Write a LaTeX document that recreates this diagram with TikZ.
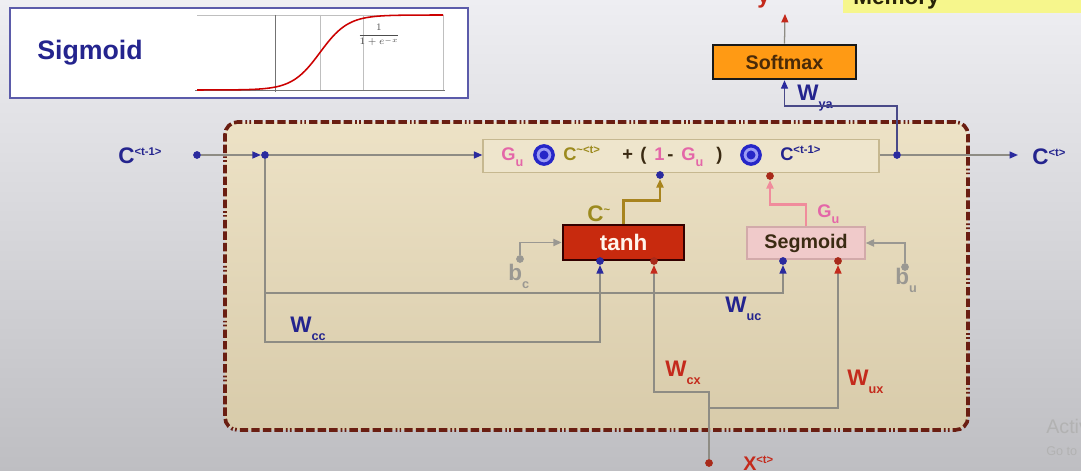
\documentclass[tikz,border=0pt]{standalone}
\usepackage{fontspec}
\setmainfont{Liberation Sans}
\usetikzlibrary{positioning,arrows.meta}

\definecolor{inkblue}{HTML}{24248E}
\definecolor{arrowblue}{HTML}{2A2A9E}
\definecolor{arrowred}{HTML}{C42A1C}
\definecolor{dotred}{HTML}{A82A1A}
\definecolor{wiregray}{HTML}{8E8C84}
\definecolor{biasgray}{HTML}{9A9892}
\definecolor{pinkG}{HTML}{E466A8}
\definecolor{olivec}{HTML}{9C8A1E}
\definecolor{goldwire}{HTML}{A8841E}
\definecolor{pinkwire}{HTML}{F08C9C}
\definecolor{cellline}{HTML}{6A1E12}
\definecolor{celltop}{HTML}{EDE2C6}
\definecolor{cellbot}{HTML}{D8CBAA}
\definecolor{formfill}{HTML}{EEE5CC}
\definecolor{formline}{HTML}{C6B890}
\definecolor{odotblue}{HTML}{2626C8}
\definecolor{odotlight}{HTML}{9C9CF4}
\definecolor{darktxt}{HTML}{3A2A12}
\definecolor{tanhred}{HTML}{C82A0E}
\definecolor{softorange}{HTML}{FF9A14}
\definecolor{softtxt}{HTML}{4A2A08}
\definecolor{segpink}{HTML}{F0CACA}
\definecolor{segline}{HTML}{D2AAAA}
\definecolor{bgtop}{HTML}{EEEEF2}
\definecolor{bgbot}{HTML}{BEBEC2}
\definecolor{memoyellow}{HTML}{F6F68C}

\newlength{\unitpx}
\setlength{\unitpx}{0.025cm}
\newcommand{\upidx}[1]{\raisebox{0.75ex}{\fontsize{8}{8}\selectfont#1}}
\newcommand{\lowidx}[1]{\raisebox{-0.6ex}{\fontsize{9}{9}\selectfont#1}}

\begin{document}
\begin{tikzpicture}[x=0.025cm, y=-0.025cm,
    wire/.style={draw=wiregray, line width=0.9pt},
    bluein/.style={wire, -{Triangle[length=6pt,width=5pt,color=arrowblue]}},
    redin/.style={wire, -{Triangle[length=6pt,width=5pt,color=arrowred]}},
    grayin/.style={draw=biasgray, line width=1.4pt, -{Triangle[length=6pt,width=5pt]}},
    dotb/.style={circle, fill=arrowblue, inner sep=0, minimum size=5.5pt},
    dotr/.style={circle, fill=dotred, inner sep=0, minimum size=5.5pt},
    dotg/.style={circle, fill=biasgray, inner sep=0, minimum size=5.5pt},
    lbl/.style={inner sep=0, anchor=base west, font=\bfseries\fontsize{16}{16}\selectfont},
    flbl/.style={inner sep=0, anchor=base west, font=\bfseries\fontsize{13}{13}\selectfont},
    odot/.style={circle, fill=odotlight, draw=odotblue, line width=2.4pt, inner sep=0, minimum size=13pt,
      path picture={\fill[odotblue] (path picture bounding box.center) circle (3.2pt);}},
    gate/.style={inner sep=0, font=\bfseries\fontsize{14}{14}\selectfont}
  ]
    \useasboundingbox (0,0) rectangle (1081,471);
    \clip (0,0) rectangle (1081,471);
    \fill[top color=bgtop, bottom color=bgbot] (0,0) rectangle (1081,471);

    % Sigmoid panel
    \node[draw=inkblue!75, line width=1.4pt, fill=white, minimum width=458\unitpx, minimum height=90\unitpx] (sigbox) at (239,53) {};
    \node[inner sep=0, anchor=west, text=inkblue, font=\bfseries\fontsize{19}{19}\selectfont] (sigtitle) at (37,53) {Sigmoid};
    \draw[black!25, line width=0.4pt] (197,15) -- (443,15) (443,15) -- (443,90) (363,15) -- (363,90) (320,15) -- (320,90);
    \draw[black!55, line width=0.5pt] (275,15) -- (275,92) (195,90) -- (445,90);
    \draw[red!80!black, line width=1.1pt, domain=197:443, samples=90] plot (\x, {90-75/(1+exp(-(\x-320)/14))});
    \node[inner sep=0, text=black!70, font=\fontsize{7}{7}\selectfont] (sigform) at (379,35) {$\displaystyle\frac{1}{1+e^{-x}}$};

    % Memory note
    \node[fill=memoyellow, minimum width=260\unitpx, minimum height=32\unitpx] (memory) at (973,-3) {};
    \node[lbl, text=black!75!olivec] (memtext) at (853,5) {Memory};

    % GRU cell
    \node[draw=cellline, line width=2.6pt, rounded corners=9pt, top color=celltop, bottom color=cellbot,
      dash pattern=on 6pt off 2.2pt on 6pt off 2.2pt on 6pt off 2.2pt on 6pt off 2.2pt on 1.2pt off 1.6pt on 1.2pt off 2.2pt,
      minimum width=743\unitpx, minimum height=308\unitpx] (cell) at (596.5,276) {};

    % Formula box
    \node[draw=formline, fill=formfill, line width=0.9pt,
      minimum width=396\unitpx, minimum height=33\unitpx] (formula) at (681,156) {};
    \node[flbl, text=pinkG] (gu1) at (501,161) {G\lowidx{u}};
    \node[odot] (o1) at (544,155) {};
    \node[flbl, text=olivec] (ctilde) at (563,161) {C\upidx{\textasciitilde<t>}};
    \node[flbl, text=darktxt] (plus) at (622,161) {+};
    \node[flbl, text=darktxt] (lpar) at (640,161) {(};
    \node[flbl, text=pinkG] (one) at (654,161) {1};
    \node[flbl, text=darktxt] (minus) at (667,161) {-};
    \node[flbl, text=pinkG] (gu2) at (681,161) {G\lowidx{u}};
    \node[flbl, text=darktxt] (rpar) at (716,161) {)};
    \node[odot] (o2) at (751,155) {};
    \node[flbl, text=inkblue] (cprevf) at (780,161) {C\upidx{<t-1>}};

    % Gates
    \node[gate, draw=black!80!red, line width=1.8pt, fill=tanhred, text=orange!8!white,
      minimum width=121\unitpx, minimum height=35\unitpx, font=\bfseries\fontsize{16}{16}\selectfont] (tanh) at (623.5,242.5) {tanh};
    \node[gate, draw=segline, line width=0.9pt, fill=segpink, text=darktxt,
      minimum width=118\unitpx, minimum height=32\unitpx] (segmoid) at (806,243) {Segmoid};
    \node[gate, draw=black!90, line width=1.8pt, fill=softorange, text=softtxt,
      minimum width=143\unitpx, minimum height=34\unitpx] (softmax) at (784.5,62) {Softmax};

    % Dots
    \node[dotb] (cin) at (197,155) {};
    \node[dotb] (split1) at (265,155) {};
    \node[dotb] (split2) at (897,155) {};
    \node[dotb] (cdot) at (660,175) {};
    \node[dotr] (gdot) at (770,176) {};
    \node[dotb] (tin1) at (600,261) {};
    \node[dotr] (tin2) at (654,261) {};
    \node[dotb] (sin1) at (783,261) {};
    \node[dotr] (sin2) at (838,261) {};
    \node[dotg] (bcdot) at (520,259) {};
    \node[dotg] (budot) at (905,267) {};
    \node[dotr] (xdot) at (709,463) {};
    \coordinate (wccc) at (265,342);
    \coordinate (ucfork) at (265,293);
    \coordinate (xfork) at (709,408);
    \coordinate (cxturn) at (709,392);
    \coordinate (yaturn) at (897,106);
    \coordinate (ytip) at (785,14);

    % Labels
    \node[lbl, text=inkblue] (cprev) at (118,164) {C\upidx{<t-1>}};
    \node[lbl, text=inkblue] (cout) at (1032,165) {C\upidx{<t>}};
    \node[lbl, text=inkblue] (wya) at (797,101) {W\lowidx{ya}};
    \node[lbl, text=inkblue] (wcc) at (290,333) {W\lowidx{cc}};
    \node[lbl, text=inkblue] (wuc) at (725,313) {W\lowidx{uc}};
    \node[lbl, text=arrowred] (wcx) at (665,377) {W\lowidx{cx}};
    \node[lbl, text=arrowred] (wux) at (847,386) {W\lowidx{ux}};
    \node[lbl, text=biasgray] (bc) at (508,281) {b\lowidx{c}};
    \node[lbl, text=biasgray] (bu) at (895,285) {b\lowidx{u}};
    \node[flbl, text=pinkG] (gulbl) at (817,218) {G\lowidx{u}};
    \node[lbl, text=olivec] (ctlbl) at (587,222) {C\upidx{\textasciitilde}};
    \node[lbl, text=arrowred, font=\bfseries\fontsize{14}{14}\selectfont] (xin) at (743,471) {X\upidx{<t>}};
    \node[lbl, text=arrowred] (yout) at (757,4) {y};
    \node[inner sep=0, anchor=base west, text=black!30, font=\fontsize{14}{14}\selectfont] (wmark1) at (1046,434) {Activate Windows};
    \node[inner sep=0, anchor=base west, text=black!30, font=\fontsize{9}{9}\selectfont] (wmark2) at (1046,456) {Go to Settings};

    % Memory line
    \draw[bluein] (cin) -- (split1);
    \draw[bluein] (split1) -- (formula.west |- split1);
    \draw[wire] (formula.east |- split2) -- (split2);
    \draw[bluein, shorten >=10pt] (split2) -- (split2 -| cout.west);
    \draw[draw=inkblue!60!gray, line width=0.9pt, -{Triangle[length=6pt,width=5pt,color=arrowblue]}] (split2) -- (yaturn) -| (softmax.south);
    \draw[redin] (softmax.north) -- (ytip);

    % Gate outputs
    \draw[draw=goldwire, line width=1.8pt, -{Triangle[length=6pt,width=5pt]}] (tanh.north) -- ++(0,-23) -| (cdot);
    \draw[draw=pinkwire, line width=1.8pt, -{Triangle[length=6pt,width=5pt]}] (segmoid.north) -- ++(0,-22) -| (gdot);

    % Biases
    \draw[grayin] (bcdot) |- (tanh.west);
    \draw[grayin] (budot) |- (segmoid.east);

    % Weights
    \draw[bluein] (split1) -- (wccc) -| (tin1);
    \draw[bluein] (ucfork) -| (sin1);
    \draw[wire] (xdot) -- (xfork);
    \draw[redin] (xfork) -| (sin2);
    \draw[redin] (xfork) -- (cxturn) -| (tin2);
  \end{tikzpicture}
\end{document}
